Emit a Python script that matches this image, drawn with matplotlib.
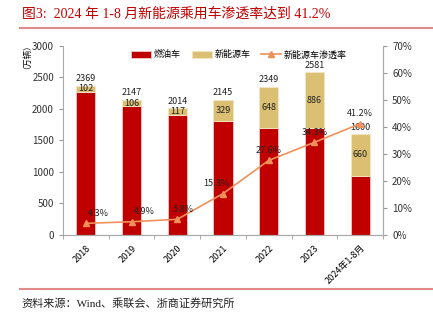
import numpy as np
import matplotlib.pyplot as plt

plt.rcParams['font.family'] = ['Noto Sans CJK SC', 'DejaVu Sans']

# data
years = ['2018', '2019', '2020', '2021', '2022', '2023', '2024年1-8月']
totals = [2369, 2147, 2014, 2145, 2349, 2581, 1600]
nev = [102, 106, 117, 329, 648, 886, 660]
fuel = [t - n for t, n in zip(totals, nev)]
rate = [4.3, 4.9, 5.8, 15.3, 27.6, 34.3, 41.2]

# label offsets for the penetration rate (points)
rate_off = [(9, 4), (9, 4), (4, 4), (-5, 4), (0, 4), (0, 4), (0, 4)]

red = '#C00000'
gold = '#DBBF72'
orange = '#F0915A'

fig = plt.figure(figsize=(4.33, 3.21), dpi=100)
ax = fig.add_axes([0.1455, 0.268, 0.739, 0.589])
ax2 = ax.twinx()

x = np.arange(len(years))
w = 0.42
ax.bar(x, fuel, w, color=red, edgecolor='#F2C8C8', linewidth=0.6, label='燃油车', zorder=2)
ax.bar(x, nev, w, bottom=fuel, color=gold, edgecolor='#F2E6C8', linewidth=0.6, label='新能源车', zorder=2)

for i in range(len(x)):
    ax.text(x[i], totals[i] + 40, str(totals[i]), ha='center', va='bottom', fontsize=6.5, color='#222222')
    ax.text(x[i], fuel[i] + nev[i] / 2, str(nev[i]), ha='center', va='center', fontsize=6.5, color='#222222')

ax2.plot(x, rate, color=orange, marker='^', markersize=4, linewidth=1.2, label='新能源车渗透率', zorder=3)
for i in range(len(x)):
    ax2.annotate(f'{rate[i]}%', (x[i], rate[i]), xytext=rate_off[i], textcoords='offset points',
                 ha='center', va='bottom', fontsize=6.5, color='#222222')

ax.set_xlim(-0.5, len(x) - 0.5)
ax.set_ylim(0, 3000)
ax.set_yticks(range(0, 3001, 500))
ax2.set_ylim(0, 70)
ax2.set_yticks(range(0, 71, 10))
ax2.set_yticklabels([f'{v}%' for v in range(0, 71, 10)])

ax.set_xticks(x)
ax.set_xticks(np.arange(-0.5, len(x), 1), minor=True)
ax.set_xticklabels(years, rotation=45, ha='right', rotation_mode='anchor', fontsize=6.5)
ax.tick_params(axis='x', which='major', length=0, pad=6)
ax.tick_params(axis='x', which='minor', length=3, color='#999999')
ax.tick_params(axis='y', labelsize=7, length=3, color='#999999', colors='#333333')
ax2.tick_params(axis='y', labelsize=7, length=3, color='#999999', colors='#333333')

for a in (ax, ax2):
    a.spines['top'].set_visible(False)
    for s in ('left', 'right', 'bottom'):
        a.spines[s].set_color('#AAAAAA')
        a.spines[s].set_linewidth(0.8)
ax2.spines['left'].set_visible(False)

ax.text(-0.125, 0.965, '（万辆）', transform=ax.transAxes, rotation=90, ha='center', va='center', fontsize=6)

h1, l1 = ax.get_legend_handles_labels()
h2, l2 = ax2.get_legend_handles_labels()
ax.legend(h1 + h2, l1 + l2, loc='upper center', bbox_to_anchor=(0.55, 1.02), ncol=3, frameon=False,
          fontsize=6.5, handlelength=2.2, handleheight=0.8, columnspacing=1.2, handletextpad=0.3)

serif = ['Liberation Serif', 'Noto Sans CJK SC']
fig.text(0.05, 0.957, '图3:  2024 年 1-8 月新能源乘用车渗透率达到 41.2%', fontsize=10, color=red,
         ha='left', va='center', family=serif)
fig.add_artist(plt.Line2D([0.046, 1.0], [0.913, 0.913], color='#E08A8A', linewidth=1.5))
fig.add_artist(plt.Line2D([0.046, 1.0], [0.099, 0.099], color='#E08A8A', linewidth=1.5))
fig.text(0.05, 0.056, '资料来源：Wind、乘联会、浙商证券研究所', fontsize=8, color='#222222',
         ha='left', va='center', family=serif)

fig.savefig('out.png', dpi=100)
